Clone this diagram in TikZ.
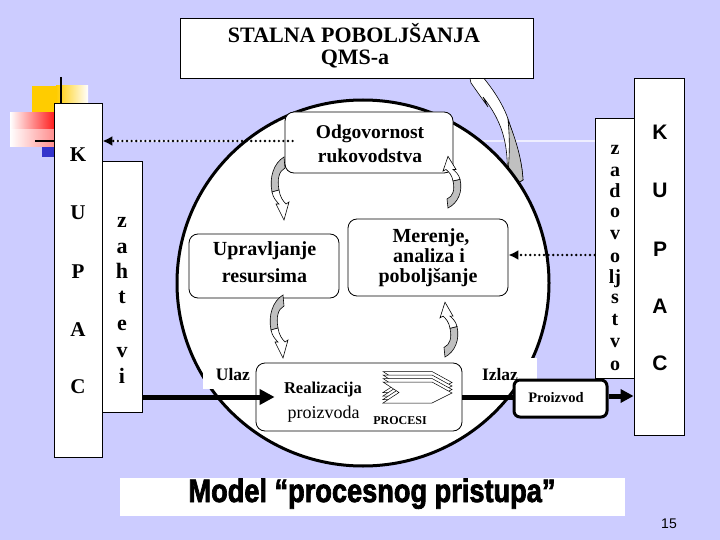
\documentclass[tikz,border=0pt]{standalone}
\usepackage{fontspec}
\setmainfont{Liberation Serif}
\newfontfamily\arialf{Liberation Sans}
\newfontfamily\impactish{Liberation Sans}[BoldFeatures={FakeBold=2.5}]
\usetikzlibrary{arrows.meta,calc}
\definecolor{bgl}{RGB}{204,204,255}
\definecolor{linel}{RGB}{238,238,255}
\definecolor{yel}{RGB}{255,204,0}
\definecolor{redd}{RGB}{255,20,20}
\definecolor{bluu}{RGB}{51,51,204}
\definecolor{grayar}{RGB}{192,192,192}
\newcommand\fsz[1]{\fontsize{#1}{#1}\selectfont}
\newcommand\cvarrow{%
  \filldraw[fill=grayar, draw=black, line width=0.6pt]
    (0,0) .. controls (-10,6) and (-15,20) .. (-12,35) -- (-5,33)
    .. controls (-7,22) and (-5,14) .. (1,11) -- cycle;
  \filldraw[fill=white, draw=black, line width=0.6pt]
    (-12,35) .. controls (-11,41) and (-7,45) .. (-5,47) -- (-8,47) -- (0,63)
    -- (5,45) -- (2,47) .. controls (-1,44) and (-4,40) .. (-5,33) -- cycle;
}
\begin{document}
\begin{tikzpicture}[x=1pt,y=-1pt,
  box/.style={draw, fill=white, line width=0.8pt, inner sep=0pt},
  rbox/.style={box, rounded corners=9pt},
  wbox/.style={fill=white, inner sep=0pt},
  txt/.style={inner sep=0pt, anchor=base},
  ser/.style={txt, font=\bfseries\fsz{#1}},
  serr/.style={txt, font=\fsz{#1}},
  san/.style={txt, font=\arialf\bfseries\fsz{#1}},
  dots/.style={line width=2.6pt, dash pattern=on 0pt off 4.6pt, line cap=round,
    -{Latex[length=10pt,width=10pt]}},
  bigline/.style={line width=5pt}
]
\useasboundingbox (0,0) rectangle (720,540);
\fill[bgl] (0,0) rectangle (720,540);
% template line
\draw[linel, line width=2pt] (102,141) -- (595,141);
% left decoration
\fill[yel] (32,86) rectangle (56,116);
\shade[left color=yel, right color=white] (56,86) rectangle (88,116);
\shade[left color=white, right color=redd] (10,113) rectangle (56,147);
\shade[top color=redd!0, bottom color=white, opacity=0.5] (10,130) rectangle (56,147);
\fill[bluu] (42,147) rectangle (56,157);
\draw[line width=2.5pt] (61,77) -- (61,105);
\draw[line width=2pt] (35,141) -- (56,141);
% big curved arrow (behind the circle)
\filldraw[fill=white, draw=black, line width=0.6pt]
  (465,57) .. controls (485,78) and (503,100) .. (510,125)
  .. controls (516,145) and (522,160) .. (523,180) -- (506,190)
  .. controls (510,150) and (505,125) .. (483,97) -- (488,107) -- (471,83) -- cycle;
\filldraw[fill=grayar, draw=black, line width=0.6pt]
  (508,120) .. controls (516,140) and (522,160) .. (523,180) -- (506,190)
  .. controls (510,160) and (510,140) .. (508,120) -- cycle;
% circle
\draw[line width=3pt, fill=white] (363,283) ellipse [x radius=186pt, y radius=183pt];
% white patches
\node[wbox, minimum width=54pt, minimum height=25pt] (ulazbg) at (230,376.5) {};
\node[wbox, minimum width=57pt, minimum height=24pt] (izlazbg) at (508.5,370) {};
% top box
\node[box, minimum width=353pt, minimum height=60pt] (top) at (356.5,48) {};
\node[ser=22] (topT1) at (354,43) {STALNA POBOLJŠANJA};
\node[ser=22] (topT2) at (355,65) {QMS-a};
% inner boxes
\node[rbox, minimum width=168pt, minimum height=61pt] (odg) at (369,142.5) {};
\node[ser=19.5] (odgT1) at (370,139) {Odgovornost};
\node[ser=19.5] (odgT2) at (370,163) {rukovodstva};
\node[rbox, minimum width=150pt, minimum height=64pt] (upr) at (264,266) {};
\node[ser=20] (uprT1) at (264.5,255) {Upravljanje};
\node[ser=20] (uprT2) at (264.5,282) {resursima};
\node[rbox, minimum width=160pt, minimum height=77pt] (mer) at (428,257.5) {};
\node[ser=20] (merT1) at (431,242) {Merenje,};
\node[ser=20] (merT2) at (429,262) {analiza i};
\node[ser=20] (merT3) at (428,282) {poboljšanje};
\node[rbox, minimum width=206pt, minimum height=68pt] (real) at (359,397) {};
\node[ser=16.5] (realT1) at (323,393) {Realizacija};
\node[serr=18] (realT2) at (323.5,418) {proizvoda};
\node[ser=12] (proc) at (400,424) {PROCESI};
\foreach \dy in {-10.5,-7,-3.5,0}{
  \filldraw[fill=white, draw=black, line width=0.5pt]
    (383,382+\dy) -- (432,382+\dy) -- (452,393+\dy) -- (432,403+\dy)
    -- (383,403+\dy) -- (399,392.5+\dy) -- cycle;
}
\node[ser=17.5] (ulazT) at (233,380) {Ulaz};
\node[ser=17.5] (izlazT) at (500,380) {Izlaz};
\node[draw, fill=white, line width=3pt, rounded corners=6pt, inner sep=0pt,
  minimum width=93pt, minimum height=37pt] (proiz) at (560.5,398.5) {};
\node[ser=14.5] (proizT) at (556,402) {Proizvod};
% small curved arrows
\begin{scope}[shift={(284,157)}]\cvarrow\end{scope}
\begin{scope}[shift={(283,295)}]\cvarrow\end{scope}
\begin{scope}[shift={(448,208)}, rotate=180, yscale=0.82]\cvarrow\end{scope}
\begin{scope}[shift={(445,357)}, rotate=180, yscale=0.87]\cvarrow\end{scope}
% side boxes
\node[box, minimum width=48pt, minimum height=354pt] (kupL) at (78,280) {};
\node[box, minimum width=40pt, minimum height=251pt] (zah) at (122,286.5) {};
\node[box, minimum width=39pt, minimum height=260pt] (zad) at (614.5,248) {};
\node[box, minimum width=50pt, minimum height=357pt] (kupR) at (659,256.5) {};
\foreach \l/\y [count=\i] in {K/162,U/219,P/278,A/336,C/393}
  \node[ser=21] (kl\i) at (78,\y) {\l};
\foreach \l/\y [count=\i] in {z/227,a/253,h/278,t/303,e/330,v/357,i/383}
  \node[ser=22] (zh\i) at (122,\y) {\l};
\foreach \l/\y [count=\i] in {z/155,a/177,d/197,o/218,v/240,o/262,lj/283,s/303,t/325,v/347,o/370}
  \node[ser=20] (zd\i) at (615,\y) {\l};
\foreach \l/\y [count=\i] in {K/140,U/198,P/256,A/313,C/370}
  \node[san=21] (kr\i) at (660,\y) {\l};
% connectors
\draw[bigline, -{Triangle[length=15pt,width=15pt]}] (zah.east |- real.center) -- ([xshift=19pt]real.west);
\draw[bigline] (real.east) -- (real.east -| proiz.west);
\draw[bigline, -{Triangle[length=13pt,width=13pt]}] (proiz.east |- 0,396) -- (kupR.west |- 0,396);
\draw[dots] ([xshift=8pt]odg.west |- 0,141) -- (kupL.east |- 0,141);
\draw[dots] (zad.west |- 0,255) -- (mer.east |- 0,255);
% banner
\node[wbox, minimum width=505pt, minimum height=38pt] (banner) at (372.5,497) {};
\node[txt] (modelT) at (372,502) {\resizebox{367pt}{23.5pt}{\impactish\bfseries\fsz{32}Model “procesnog pristupa”}};
\node[txt, font=\arialf\fsz{14}] (pg) at (669,528) {15};
\end{tikzpicture}
\end{document}
